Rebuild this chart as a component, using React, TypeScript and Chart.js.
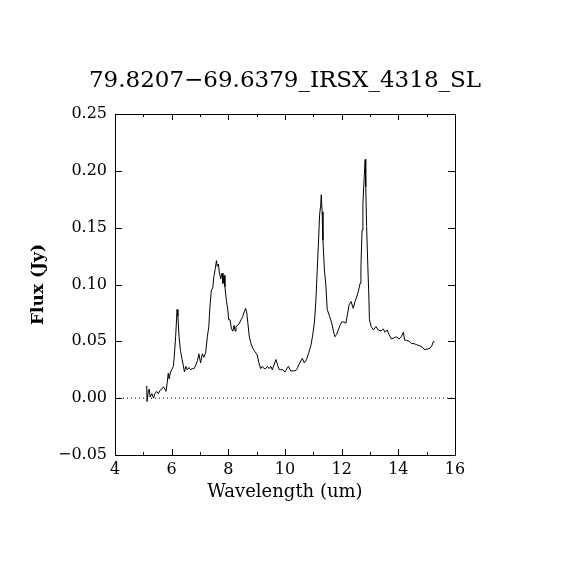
import React, { useEffect, useRef } from 'react';
import { Chart, registerables } from 'chart.js';

Chart.register(...registerables);

const TITLE = '79.8207\u221269.6379_IRSX_4318_SL';
const X_LABEL = 'Wavelength (um)';
const Y_LABEL = 'Flux (Jy)';

const wavelength = [
  5.12, 5.13, 5.18, 5.21, 5.24, 5.3, 5.36, 5.41, 5.47, 5.53, 5.59, 5.65, 5.71, 5.76, 5.8, 5.84,
  5.88, 5.91, 5.96, 6.0, 6.06, 6.09, 6.14, 6.19, 6.22, 6.26, 6.31, 6.36, 6.41, 6.45, 6.5, 6.55,
  6.61, 6.67, 6.73, 6.79, 6.85, 6.91, 6.96, 7.02, 7.08, 7.14, 7.2, 7.26, 7.31, 7.35, 7.4, 7.45,
  7.49, 7.54, 7.58, 7.61, 7.65, 7.68, 7.73, 7.78, 7.81, 7.85, 7.88, 7.93, 7.98, 8.01, 8.06, 8.11,
  8.16, 8.2, 8.24, 8.27, 8.33, 8.39, 8.45, 8.51, 8.56, 8.61, 8.65, 8.69, 8.74, 8.8, 8.86, 8.94,
  9.02, 9.08, 9.14, 9.2, 9.26, 9.32, 9.38, 9.44, 9.5, 9.55, 9.61, 9.68, 9.74, 9.8, 9.92, 10.0,
  10.12, 10.2, 10.35, 10.41, 10.5, 10.61, 10.68, 10.76, 10.84, 10.92, 10.98, 11.04, 11.09, 11.14,
  11.19, 11.22, 11.26, 11.28, 11.31, 11.34, 11.39, 11.44, 11.49, 11.56, 11.65, 11.7, 11.76, 11.82,
  11.88, 11.94, 12.0, 12.08, 12.15, 12.2, 12.26, 12.33, 12.41, 12.47, 12.53, 12.59, 12.65, 12.68,
  12.72, 12.75, 12.79, 12.83, 12.85, 12.88, 12.92, 12.96, 12.98, 13.04, 13.12, 13.21, 13.29, 13.39,
  13.47, 13.53, 13.61, 13.67, 13.76, 13.84, 13.94, 14.02, 14.1, 14.18, 14.22, 14.29, 14.38, 14.47,
  14.55, 14.65, 14.76, 14.84, 14.91, 15.01, 15.12, 15.18, 15.24, 15.28,
];

const flux = [
  0.011, -0.003, 0.007, 0.008, 0.001, 0.004, 0.0, 0.004, 0.006, 0.004, 0.007, 0.008, 0.01, 0.008, 0.006, 0.013,
  0.022, 0.017, 0.023, 0.025, 0.028, 0.036, 0.054, 0.078, 0.072, 0.054, 0.042, 0.035, 0.029, 0.023, 0.028, 0.025,
  0.027, 0.025, 0.026, 0.026, 0.029, 0.033, 0.039, 0.031, 0.039, 0.036, 0.04, 0.054, 0.063, 0.08, 0.095, 0.097,
  0.107, 0.114, 0.121, 0.116, 0.118, 0.111, 0.105, 0.11, 0.101, 0.108, 0.098, 0.086, 0.078, 0.069, 0.069, 0.061,
  0.059, 0.064, 0.059, 0.063, 0.064, 0.066, 0.069, 0.072, 0.076, 0.079, 0.075, 0.066, 0.054, 0.048, 0.044, 0.041,
  0.038, 0.031, 0.026, 0.028, 0.026, 0.026, 0.028, 0.026, 0.028, 0.025, 0.029, 0.034, 0.029, 0.025, 0.025, 0.023,
  0.028, 0.024, 0.024, 0.025, 0.03, 0.035, 0.031, 0.034, 0.04, 0.047, 0.056, 0.067, 0.086, 0.114,
  0.142, 0.161, 0.17, 0.179, 0.164, 0.139, 0.113, 0.1, 0.078, 0.073, 0.066, 0.06, 0.054, 0.056,
  0.06, 0.064, 0.067, 0.067, 0.066, 0.073, 0.082, 0.085, 0.079, 0.085, 0.089, 0.094, 0.101, 0.116,
  0.148, 0.171, 0.192, 0.21, 0.186, 0.151, 0.119, 0.089, 0.069, 0.063, 0.06, 0.063, 0.06, 0.059,
  0.061, 0.058, 0.06, 0.056, 0.052, 0.053, 0.054, 0.052, 0.054, 0.058, 0.051, 0.051, 0.05, 0.048,
  0.048, 0.047, 0.046, 0.045, 0.043, 0.043, 0.044, 0.046, 0.05, 0.049,
];

const zeroLineX = [4, 16];
const zeroLineY = [0, 0];

const X_MIN = 4;
const X_MAX = 16;
const X_MINOR_STEP = 1;
const X_MAJOR_STEP = 2;
const Y_MIN = -0.05;
const Y_MAX = 0.25;
const Y_STEP = 0.05;

const FONT = '"DejaVu Serif", "Liberation Serif", serif';

const framePlugin = {
  id: 'pgFrame',
  afterDatasetsDraw(chart: any) {
    const { ctx, chartArea } = chart;
    const { left, right, top, bottom } = chartArea;
    const xs = chart.scales.x;
    const ys = chart.scales.y;
    ctx.save();
    ctx.strokeStyle = '#000';
    ctx.lineWidth = 1;
    ctx.beginPath();
    ctx.rect(Math.round(left) + 0.5, Math.round(top) + 0.5, Math.round(right - left), Math.round(bottom - top));
    ctx.stroke();
    ctx.beginPath();
    xs.ticks.forEach((t: any) => {
      const px = Math.round(xs.getPixelForValue(t.value)) + 0.5;
      const major = Math.abs(t.value % X_MAJOR_STEP) < 1e-6;
      const len = major ? 6 : 3;
      ctx.moveTo(px, bottom);
      ctx.lineTo(px, bottom - len);
      ctx.moveTo(px, top);
      ctx.lineTo(px, top + len);
    });
    ys.ticks.forEach((t: any) => {
      const py = Math.round(ys.getPixelForValue(t.value)) + 0.5;
      ctx.moveTo(left, py);
      ctx.lineTo(left + 7, py);
      ctx.moveTo(right, py);
      ctx.lineTo(right - 7, py);
    });
    ctx.stroke();
    ctx.restore();
  },
};

export default function App() {
  const ref = useRef<HTMLCanvasElement | null>(null);

  useEffect(() => {
    if (!ref.current) return;
    Chart.defaults.color = '#000';
    const spectrum = wavelength.map((w, i) => ({ x: w, y: flux[i] }));
    const zero = zeroLineX.map((w, i) => ({ x: w, y: zeroLineY[i] }));
    const chart = new Chart(ref.current, {
      type: 'line',
      data: {
        datasets: [
          {
            data: spectrum,
            borderColor: '#000',
            borderWidth: 1,
            pointRadius: 0,
            tension: 0,
            fill: false,
          },
          {
            data: zero,
            borderColor: '#000',
            borderWidth: 1,
            borderDash: [1, 3],
            pointRadius: 0,
            fill: false,
          },
        ],
      },
      options: {
        responsive: false,
        animation: false,
        events: [],
        layout: { padding: { left: 28, right: 28, top: 0, bottom: 65 } },
        plugins: {
          legend: { display: false },
          tooltip: { enabled: false },
          title: {
            display: true,
            text: TITLE,
            color: '#000',
            font: { family: FONT, size: 23, weight: 'normal' },
            padding: { top: 67.7, bottom: 18.7 },
          },
        },
        scales: {
          x: {
            type: 'linear',
            min: X_MIN,
            max: X_MAX,
            grid: { display: false, drawTicks: false },
            border: { display: false },
            afterFit: (s: any) => {
              s.height = 50;
            },
            ticks: {
              stepSize: X_MINOR_STEP,
              autoSkip: false,
              maxRotation: 0,
              padding: 5,
              color: '#000',
              font: { family: FONT, size: 16 },
              callback: (v: any) => (Math.abs(v % X_MAJOR_STEP) < 1e-6 ? String(v) : ''),
            },
            title: {
              display: true,
              text: X_LABEL,
              color: '#000',
              font: { family: FONT, size: 18 },
              padding: { top: 0, bottom: 2 },
            },
          },
          y: {
            type: 'linear',
            min: Y_MIN,
            max: Y_MAX,
            grid: { display: false, drawTicks: false },
            border: { display: false },
            afterFit: (s: any) => {
              s.width = 115 - 28;
            },
            ticks: {
              stepSize: Y_STEP,
              autoSkip: false,
              padding: 8,
              color: '#000',
              font: { family: FONT, size: 16 },
              callback: (v: any) => {
                const n = Number(v);
                const s = Math.abs(n).toFixed(2);
                return n < -1e-9 ? '\u2212' + s : s;
              },
            },
            title: {
              display: true,
              text: Y_LABEL,
              color: '#000',
              font: { family: FONT, size: 17, weight: 'bold' },
              padding: { top: 0, bottom: 0 },
            },
          },
          yRight: {
            type: 'linear',
            position: 'right',
            min: Y_MIN,
            max: Y_MAX,
            display: true,
            grid: { display: false, drawTicks: false },
            border: { display: false },
            ticks: { display: false },
            title: { display: false },
            afterFit: (s: any) => {
              s.width = 570 - 28 - 455;
            },
          },
        },
      },
      plugins: [framePlugin],
    } as any);
    return () => chart.destroy();
  }, []);

  return (
    <div style={{ position: 'absolute', left: 0, top: 0, width: 570, height: 570, background: '#fff' }}>
      <canvas ref={ref} width={570} height={570} style={{ width: 570, height: 570 }} />
    </div>
  );
}
